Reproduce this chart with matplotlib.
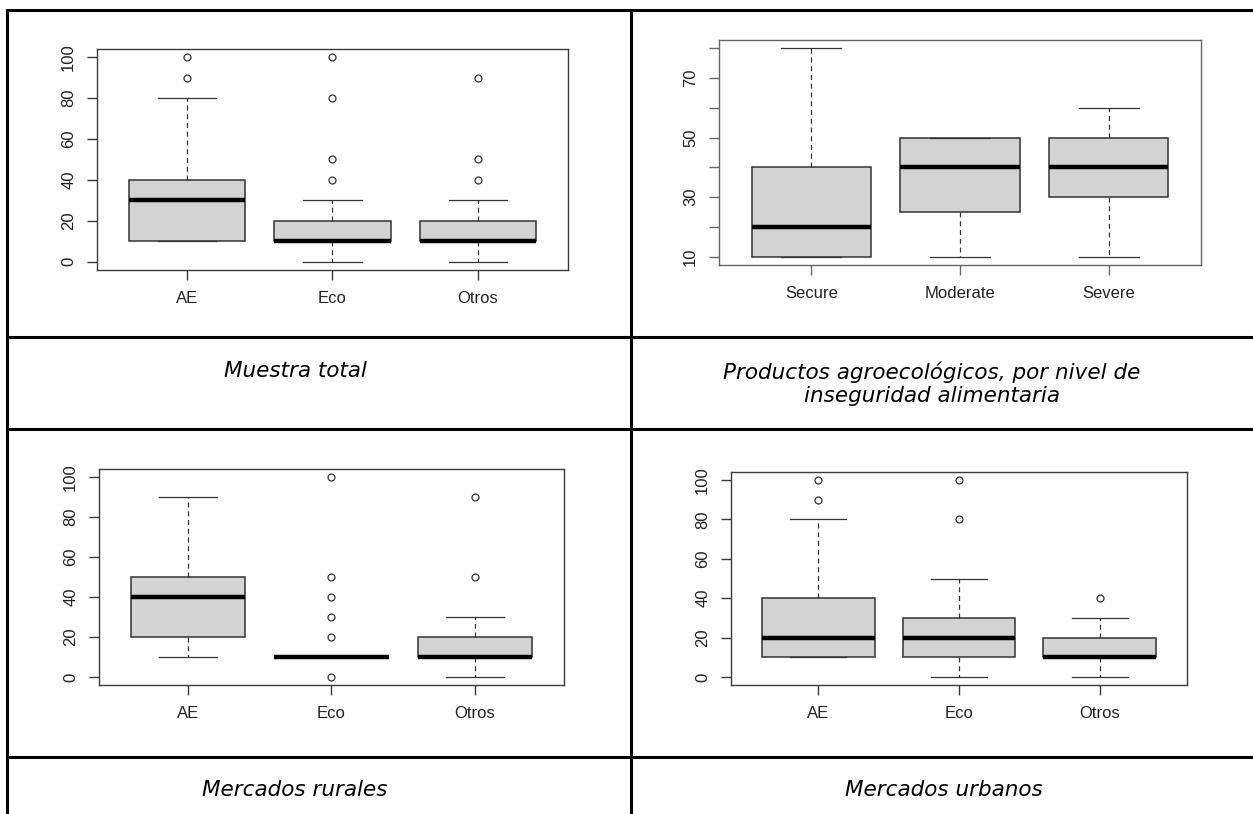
import matplotlib.pyplot as plt
from matplotlib.lines import Line2D

W, H = 1253, 814

# box statistics
total_labels = ['AE', 'Eco', 'Otros']
total_q1 = [10, 10, 10]
total_med = [30, 10, 10]
total_q3 = [40, 20, 20]
total_lo = [10, 0, 0]
total_hi = [80, 30, 30]
total_out = [[90, 100], [40, 50, 80, 100], [40, 50, 90]]

inseg_labels = ['Secure', 'Moderate', 'Severe']
inseg_q1 = [10, 25, 30]
inseg_med = [20, 40, 40]
inseg_q3 = [40, 50, 50]
inseg_lo = [10, 10, 10]
inseg_hi = [80, 50, 60]
inseg_out = [[], [], []]

rural_labels = ['AE', 'Eco', 'Otros']
rural_q1 = [20, 10, 10]
rural_med = [40, 10, 10]
rural_q3 = [50, 10, 20]
rural_lo = [10, 10, 0]
rural_hi = [90, 10, 30]
rural_out = [[], [0, 20, 30, 40, 50, 100], [50, 90]]

urban_labels = ['AE', 'Eco', 'Otros']
urban_q1 = [10, 10, 10]
urban_med = [20, 20, 10]
urban_q3 = [40, 30, 20]
urban_lo = [10, 0, 0]
urban_hi = [80, 50, 30]
urban_out = [[90, 100], [80, 100], [40]]

captions = ['Muestra total',
            'Productos agroecológicos, por nivel de\ninseguridad alimentaria',
            'Mercados rurales',
            'Mercados urbanos']

plt.rcParams['font.family'] = ['Liberation Sans', 'DejaVu Sans']

fig = plt.figure(figsize=(W / 100, H / 100), dpi=100)


def px_axes(x0, y0, x1, y1):
    # pixel box (top-left origin) -> figure axes
    return fig.add_axes([x0 / W, 1 - y1 / H, (x1 - x0) / W, (y1 - y0) / H])


def r_boxplot(ax, labels, q1, med, q3, lo, hi, out, lim, ticks, ticklabels, edge='#3a3a3a'):
    stats = []
    for i in range(len(labels)):
        stats.append(dict(q1=q1[i], med=med[i], q3=q3[i], whislo=lo[i],
                          whishi=hi[i], fliers=out[i], label=labels[i]))
    ax.bxp(stats, positions=[1, 2, 3], widths=0.8, patch_artist=True,
           boxprops=dict(facecolor='#d3d3d3', edgecolor='#333333', linewidth=1.1),
           medianprops=dict(color='black', linewidth=3.2, solid_capstyle='butt'),
           whiskerprops=dict(color='#333333', linewidth=0.9, linestyle=(0, (4, 3))),
           capprops=dict(color='#333333', linewidth=0.9),
           capwidths=0.4,
           flierprops=dict(marker='o', markersize=5, markerfacecolor='none',
                           markeredgecolor='#333333', markeredgewidth=0.9))
    ax.set_xlim(0.38, 3.62)
    ax.set_ylim(*lim)
    ax.set_yticks(ticks)
    ax.set_yticklabels(ticklabels)
    for s in ax.spines.values():
        s.set_color(edge)
        s.set_linewidth(1.0)
    ax.tick_params(length=7, width=1.0, color=edge, labelsize=12, labelcolor='#222222')
    ax.tick_params(axis='y', pad=8)
    ax.tick_params(axis='x', pad=8)
    for t in ax.get_yticklabels():
        t.set_rotation(90)
        t.set_va('center')


ax1 = px_axes(97, 49, 568, 270)
r_boxplot(ax1, total_labels, total_q1, total_med, total_q3, total_lo, total_hi, total_out,
          (-4, 104), [0, 20, 40, 60, 80, 100], ['0', '20', '40', '60', '80', '100'])

ax2 = px_axes(719, 40, 1201, 265)
r_boxplot(ax2, inseg_labels, inseg_q1, inseg_med, inseg_q3, inseg_lo, inseg_hi, inseg_out,
          (7.2, 82.8), [10, 20, 30, 40, 50, 60, 70, 80],
          ['10', '', '30', '', '50', '', '70', ''], edge='#666666')

ax3 = px_axes(99, 469, 564, 685)
r_boxplot(ax3, rural_labels, rural_q1, rural_med, rural_q3, rural_lo, rural_hi, rural_out,
          (-4, 104), [0, 20, 40, 60, 80, 100], ['0', '20', '40', '60', '80', '100'])

ax4 = px_axes(731, 472, 1187, 685)
r_boxplot(ax4, urban_labels, urban_q1, urban_med, urban_q3, urban_lo, urban_hi, urban_out,
          (-4, 104), [0, 20, 40, 60, 80, 100], ['0', '20', '40', '60', '80', '100'])

# table grid
lw = 2.2
lines = [((7, 1253), (10, 10)), ((7, 7), (10, 814)), ((631, 631), (10, 814)),
         ((7, 1253), (337, 337)), ((7, 1253), (429, 429)), ((7, 1253), (757, 757))]
for xs, ys in lines:
    fig.add_artist(Line2D([x / W for x in xs], [1 - y / H for y in ys],
                          transform=fig.transFigure, color='black', linewidth=lw))

# captions
cap_pos = [(295, 371), (932, 384), (295, 790), (944, 790)]
for (cx, cy), txt in zip(cap_pos, captions):
    fig.text(cx / W, 1 - cy / H, txt, ha='center', va='center', fontsize=15.5,
             style='italic', family='DejaVu Sans', linespacing=1.2)

fig.savefig('out.png', dpi=100)
